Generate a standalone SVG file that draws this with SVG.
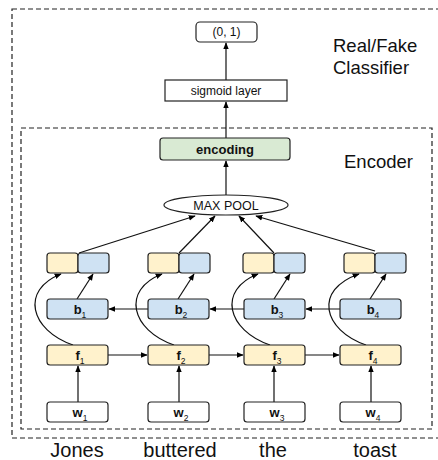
<svg xmlns="http://www.w3.org/2000/svg" width="438" height="460" viewBox="0 0 438 460">
<defs>
<marker id="ah" viewBox="0 0 10 10" refX="9" refY="5" markerWidth="7" markerHeight="7" orient="auto-start-reverse" markerUnits="userSpaceOnUse">
<path d="M0,1 L10,5 L0,9 z" fill="#000"/>
</marker>
<style>
.dash{fill:none;stroke:#222;stroke-width:1.2;stroke-dasharray:5,3}
.box{stroke:#222;stroke-width:1.2}
.wht{fill:#fff}
.yel{fill:#fff2cc}
.blu{fill:#cfe2f3}
.grn{fill:#d9ead3}
.lbl{font-family:"Liberation Sans",Arial,sans-serif;font-size:12px;fill:#111;text-anchor:middle}
.bl{font-family:"Liberation Sans",Arial,sans-serif;font-size:13px;font-weight:bold;fill:#111;text-anchor:middle}
.sub{font-size:8.5px;font-weight:normal}
.big{font-family:"Liberation Sans",Arial,sans-serif;font-size:18.5px;fill:#111}
.word{font-family:"Liberation Sans",Arial,sans-serif;font-size:20px;fill:#111;text-anchor:middle}
.cn{fill:none;stroke:#111;stroke-width:1.2;marker-end:url(#ah)}
</style>
</defs>
<rect width="438" height="460" fill="#fff"/>
<g id="frames">
<rect class="dash" x="12" y="9" width="440" height="429"/>
<rect class="dash" x="21" y="128" width="411" height="301"/>
<text class="big" x="333" y="52">Real/Fake</text>
<text class="big" x="333" y="74">Classifier</text>
<text class="big" x="344" y="168">Encoder</text>
</g>
<g id="connectors">
<line class="cn" x1="226" y1="80" x2="226" y2="43"/>
<line class="cn" x1="226" y1="138" x2="226" y2="102"/>
<line class="cn" x1="226" y1="195" x2="226" y2="161"/>
<line class="cn" x1="79" y1="253" x2="195" y2="216"/>
<line class="cn" x1="179" y1="253" x2="215" y2="216"/>
<line class="cn" x1="274" y1="253" x2="239" y2="216"/>
<line class="cn" x1="375" y1="251" x2="256" y2="216"/>
<line class="cn" x1="78" y1="402" x2="78" y2="366"/>
<line class="cn" x1="179" y1="402" x2="179" y2="366"/>
<line class="cn" x1="274" y1="402" x2="274" y2="366"/>
<line class="cn" x1="371" y1="402" x2="371" y2="366"/>
<line class="cn" x1="108" y1="355" x2="147" y2="355"/>
<line class="cn" x1="209" y1="355" x2="243" y2="355"/>
<line class="cn" x1="305" y1="355" x2="339" y2="355"/>
<line class="cn" x1="148" y1="309" x2="109" y2="309"/>
<line class="cn" x1="244" y1="309" x2="210" y2="309"/>
<line class="cn" x1="340" y1="309" x2="306" y2="309"/>
<line class="cn" x1="77" y1="299" x2="93" y2="274"/>
<line class="cn" x1="178" y1="299" x2="194" y2="274"/>
<line class="cn" x1="274" y1="299" x2="290" y2="274"/>
<line class="cn" x1="370" y1="299" x2="386" y2="274"/>
<path class="cn" d="M73,345 C30,330 20,290 61,274"/>
<path class="cn" d="M174,345 C131,330 121,290 162,274"/>
<path class="cn" d="M270,345 C227,330 217,290 258,274"/>
<path class="cn" d="M366,345 C323,330 313,290 359,274"/>
</g>
<g id="out">
<rect class="box wht" x="196" y="22" width="61" height="20" rx="4"/>
<text class="lbl" x="226.5" y="36">(0, 1)</text>
</g>
<g id="sigmoid">
<rect class="box wht" x="165" y="80" width="122" height="21"/>
<text class="lbl" x="226" y="95">sigmoid layer</text>
</g>
<g id="encoding">
<rect class="box grn" x="160" y="138" width="130" height="22" rx="3"/>
<text class="bl" x="225" y="153.5">encoding</text>
</g>
<g id="maxpool">
<ellipse class="box wht" cx="226" cy="205" rx="62" ry="10"/>
<text class="lbl" x="226" y="209.5" style="font-size:12.5px">MAX POOL</text>
</g>
<g id="h1"><rect class="box yel" x="47" y="253" width="31" height="20" rx="3"/><rect class="box blu" x="78" y="253" width="31" height="20" rx="3"/></g>
<g id="h2"><rect class="box yel" x="148" y="253" width="31" height="20" rx="3"/><rect class="box blu" x="179" y="253" width="31" height="20" rx="3"/></g>
<g id="h3"><rect class="box yel" x="243" y="253" width="31" height="20" rx="3"/><rect class="box blu" x="274" y="253" width="31" height="20" rx="3"/></g>
<g id="h4"><rect class="box yel" x="344" y="253" width="31" height="20" rx="3"/><rect class="box blu" x="375" y="253" width="31" height="20" rx="3"/></g>
<g id="b1"><rect class="box blu" x="47" y="299" width="61" height="20" rx="3"/><text class="bl" x="80" y="313.5">b<tspan class="sub" dy="4">1</tspan></text></g>
<g id="b2"><rect class="box blu" x="148" y="299" width="61" height="20" rx="3"/><text class="bl" x="181" y="313.5">b<tspan class="sub" dy="4">2</tspan></text></g>
<g id="b3"><rect class="box blu" x="244" y="299" width="61" height="20" rx="3"/><text class="bl" x="277" y="313.5">b<tspan class="sub" dy="4">3</tspan></text></g>
<g id="b4"><rect class="box blu" x="340" y="299" width="61" height="20" rx="3"/><text class="bl" x="373" y="313.5">b<tspan class="sub" dy="4">4</tspan></text></g>
<g id="f1"><rect class="box yel" x="47" y="345" width="61" height="20" rx="3"/><text class="bl" x="80" y="359.5">f<tspan class="sub" dy="4">1</tspan></text></g>
<g id="f2"><rect class="box yel" x="148" y="345" width="61" height="20" rx="3"/><text class="bl" x="181" y="359.5">f<tspan class="sub" dy="4">2</tspan></text></g>
<g id="f3"><rect class="box yel" x="244" y="345" width="61" height="20" rx="3"/><text class="bl" x="277" y="359.5">f<tspan class="sub" dy="4">3</tspan></text></g>
<g id="f4"><rect class="box yel" x="340" y="345" width="61" height="20" rx="3"/><text class="bl" x="373" y="359.5">f<tspan class="sub" dy="4">4</tspan></text></g>
<g id="w1"><rect class="box wht" x="47" y="402" width="61" height="20" rx="3"/><text class="bl" x="80" y="416.5">w<tspan class="sub" dy="4">1</tspan></text></g>
<g id="w2"><rect class="box wht" x="148" y="402" width="61" height="20" rx="3"/><text class="bl" x="181" y="416.5">w<tspan class="sub" dy="4">2</tspan></text></g>
<g id="w3"><rect class="box wht" x="244" y="402" width="61" height="20" rx="3"/><text class="bl" x="277" y="416.5">w<tspan class="sub" dy="4">3</tspan></text></g>
<g id="w4"><rect class="box wht" x="340" y="402" width="61" height="20" rx="3"/><text class="bl" x="373" y="416.5">w<tspan class="sub" dy="4">4</tspan></text></g>
<g id="words">
<text class="word" x="77" y="457">Jones</text>
<text class="word" x="180" y="457">buttered</text>
<text class="word" x="273" y="457">the</text>
<text class="word" x="375" y="457">toast</text>
</g>
</svg>
